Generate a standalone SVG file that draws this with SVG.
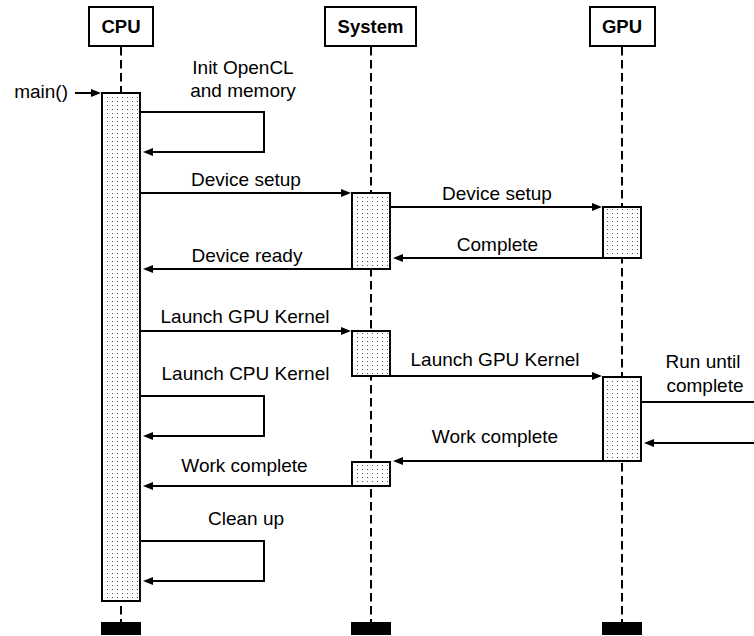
<svg xmlns="http://www.w3.org/2000/svg" width="754" height="636" viewBox="0 0 754 636">
  <defs>
    <pattern id="dots" width="5" height="4" patternUnits="userSpaceOnUse">
      <rect width="5" height="4" fill="#ffffff"/>
      <rect x="2" y="1" width="1" height="1" fill="#555555"/>
    </pattern>
    <marker id="arrow" markerUnits="userSpaceOnUse" markerWidth="10" markerHeight="8" refX="7" refY="4" orient="auto">
      <path d="M0,0 L10,4 L0,8 Z" fill="#000"/>
    </marker>
    <style>
      .head { fill: #fff; stroke: #000; stroke-width: 2; }
      .life { stroke: #000; stroke-width: 2; stroke-dasharray: 8.5 4.5; fill: none; }
      .act { fill: url(#dots); stroke: #000; stroke-width: 2; }
      .end { fill: #000; }
      .msg { stroke: #000; stroke-width: 2; fill: none; marker-end: url(#arrow); }
      .plain { stroke: #000; stroke-width: 2; fill: none; }
      .htxt { font-family: "Liberation Sans", Arial, sans-serif; font-size: 18.5px; font-weight: bold; text-anchor: middle; fill: #000; }
      .lbl { font-family: "Liberation Sans", Arial, sans-serif; font-size: 19px; text-anchor: middle; fill: #000; }
    </style>
  </defs>
  <rect width="754" height="636" fill="#fff"/>

  <g id="cpu">
    <line class="life" x1="121" y1="47" x2="121" y2="622"/>
    <rect class="head" x="89" y="7" width="64" height="39"/>
    <text class="htxt" x="121" y="33">CPU</text>
    <rect class="act" x="102" y="93" width="38" height="508"/>
    <rect class="end" x="101" y="622" width="40" height="13"/>
  </g>

  <g id="system">
    <line class="life" x1="371" y1="47" x2="371" y2="622"/>
    <rect class="head" x="325" y="7" width="91" height="39"/>
    <text class="htxt" x="370.5" y="33">System</text>
    <rect class="act" x="352" y="193" width="38" height="76"/>
    <rect class="act" x="352" y="331" width="38" height="45"/>
    <rect class="act" x="352" y="462" width="38" height="24"/>
    <rect class="end" x="351" y="622" width="40" height="13"/>
  </g>

  <g id="gpu">
    <line class="life" x1="622" y1="47" x2="622" y2="622"/>
    <rect class="head" x="590" y="7" width="65" height="39"/>
    <text class="htxt" x="622" y="33">GPU</text>
    <rect class="act" x="603" y="207" width="38" height="51"/>
    <rect class="act" x="603" y="377" width="38" height="84"/>
    <rect class="end" x="602" y="622" width="40" height="13"/>
  </g>

  <g id="connectors">
    <line class="msg" x1="75" y1="93" x2="98" y2="93"/>
    <polyline class="msg" points="141,112 264,112 264,152 146,152"/>
    <line class="msg" x1="141" y1="193" x2="348" y2="193"/>
    <line class="msg" x1="391" y1="207" x2="599" y2="207"/>
    <line class="msg" x1="602" y1="258" x2="396" y2="258"/>
    <line class="msg" x1="351" y1="269" x2="146" y2="269"/>
    <line class="msg" x1="141" y1="331" x2="348" y2="331"/>
    <line class="msg" x1="391" y1="376" x2="599" y2="376"/>
    <polyline class="msg" points="141,396 264,396 264,436 146,436"/>
    <line class="plain" x1="642" y1="402" x2="754" y2="402"/>
    <line class="msg" x1="754" y1="443" x2="647" y2="443"/>
    <line class="msg" x1="602" y1="461" x2="396" y2="461"/>
    <line class="msg" x1="351" y1="486" x2="146" y2="486"/>
    <polyline class="msg" points="141,541 264,541 264,581 146,581"/>
  </g>

  <g id="labels">
    <text class="lbl" x="68" y="98" style="text-anchor:end">main()</text>
    <text class="lbl" x="243" y="74">Init OpenCL</text>
    <text class="lbl" x="243" y="97">and memory</text>
    <text class="lbl" x="246" y="186">Device setup</text>
    <text class="lbl" x="497" y="200">Device setup</text>
    <text class="lbl" x="497.5" y="251">Complete</text>
    <text class="lbl" x="247" y="262">Device ready</text>
    <text class="lbl" x="245" y="323">Launch GPU Kernel</text>
    <text class="lbl" x="495" y="366">Launch GPU Kernel</text>
    <text class="lbl" x="245.5" y="380">Launch CPU Kernel</text>
    <text class="lbl" x="703" y="368">Run until</text>
    <text class="lbl" x="705" y="392">complete</text>
    <text class="lbl" x="495" y="443">Work complete</text>
    <text class="lbl" x="244.5" y="472">Work complete</text>
    <text class="lbl" x="246" y="525">Clean up</text>
  </g>
</svg>
